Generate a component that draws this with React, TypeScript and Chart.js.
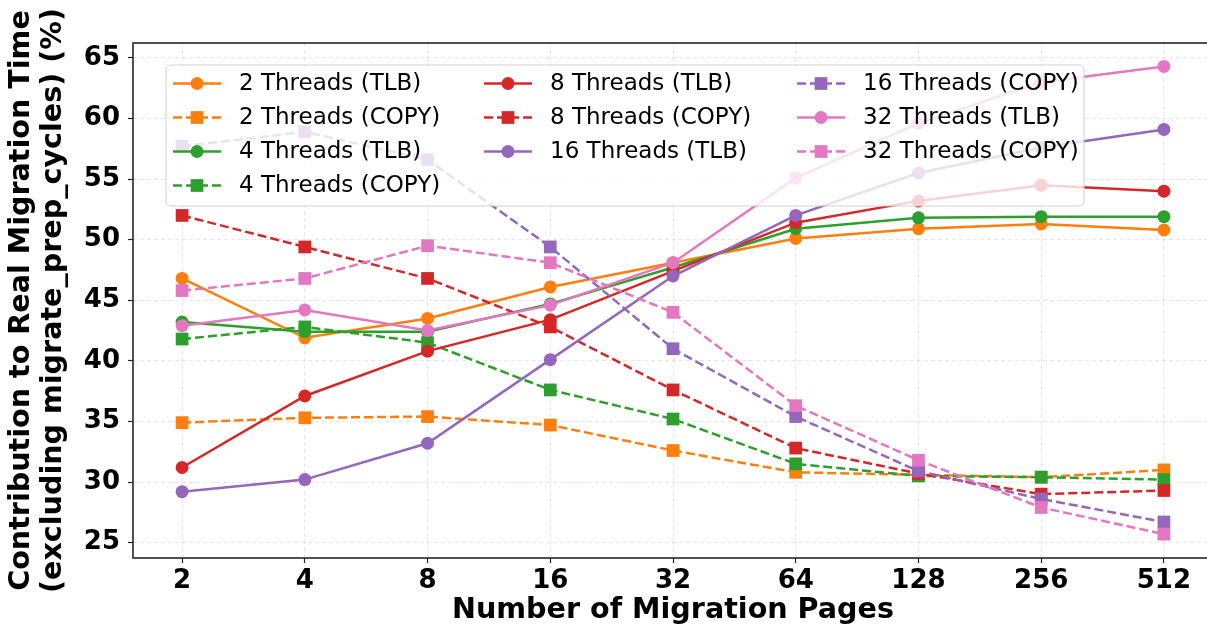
import React, { useEffect, useRef } from "react";
import Chart from "chart.js/auto";

const pages = [2, 4, 8, 16, 32, 64, 128, 256, 512];
const yTicks = [25, 30, 35, 40, 45, 50, 55, 60, 65];

const tlb2 = [46.8, 41.9, 43.5, 46.1, 48.1, 50.1, 50.9, 51.3, 50.8];
const copy2 = [34.9, 35.3, 35.4, 34.7, 32.6, 30.8, 30.6, 30.4, 31.0];
const tlb4 = [43.2, 42.4, 42.4, 44.7, 47.7, 50.9, 51.8, 51.9, 51.9];
const copy4 = [41.8, 42.8, 41.5, 37.6, 35.2, 31.5, 30.5, 30.4, 30.2];
const tlb8 = [31.2, 37.1, 40.8, 43.4, 47.4, 51.4, 53.2, 54.5, 54.0];
const copy8 = [52.0, 49.4, 46.8, 42.8, 37.6, 32.8, 30.7, 29.0, 29.3];
const tlb16 = [29.2, 30.2, 33.2, 40.1, 47.0, 52.0, 55.5, 57.6, 59.1];
const copy16 = [57.7, 58.9, 56.6, 49.4, 41.0, 35.4, 30.9, 28.6, 26.7];
const tlb32 = [42.9, 44.2, 42.5, 44.6, 48.1, 55.1, 59.6, 63.0, 64.3];
const copy32 = [45.8, 46.8, 49.5, 48.1, 44.0, 36.3, 31.8, 27.9, 25.7];

const seriesLabels = [
  "2 Threads (TLB)", "2 Threads (COPY)",
  "4 Threads (TLB)", "4 Threads (COPY)",
  "8 Threads (TLB)", "8 Threads (COPY)",
  "16 Threads (TLB)", "16 Threads (COPY)",
  "32 Threads (TLB)", "32 Threads (COPY)",
];
const seriesValues = [tlb2, copy2, tlb4, copy4, tlb8, copy8, tlb16, copy16, tlb32, copy32];
const threadColors = ["#ff7f0e", "#2ca02c", "#d62728", "#9467bd", "#e377c2"];

const FONT = "'DejaVu Sans', 'Liberation Sans', sans-serif";
const CIRCLE_R = 6.5;
const RECT_R = 9;
const DASH = [9, 4];

function drawMarker(ctx: CanvasRenderingContext2D, isCopy: boolean, x: number, y: number, color: string) {
  ctx.fillStyle = color;
  ctx.beginPath();
  if (isCopy) {
    const s = RECT_R * Math.SQRT1_2;
    ctx.rect(x - s, y - s, 2 * s, 2 * s);
  } else {
    ctx.arc(x, y, CIRCLE_R, 0, Math.PI * 2);
  }
  ctx.fill();
}

const legendPlugin = {
  id: "customLegend",
  afterDatasetsDraw(chart: any) {
    const { ctx, chartArea } = chart;
    const bx = chartArea.left + 33;
    const by = chartArea.top + 22;
    const bw = 918;
    const bh = 141;
    ctx.save();
    ctx.beginPath();
    const r = 5;
    ctx.moveTo(bx + r, by);
    ctx.lineTo(bx + bw - r, by);
    ctx.quadraticCurveTo(bx + bw, by, bx + bw, by + r);
    ctx.lineTo(bx + bw, by + bh - r);
    ctx.quadraticCurveTo(bx + bw, by + bh, bx + bw - r, by + bh);
    ctx.lineTo(bx + r, by + bh);
    ctx.quadraticCurveTo(bx, by + bh, bx, by + bh - r);
    ctx.lineTo(bx, by + r);
    ctx.quadraticCurveTo(bx, by, bx + r, by);
    ctx.closePath();
    ctx.fillStyle = "rgba(255,255,255,0.8)";
    ctx.fill();
    ctx.strokeStyle = "rgba(204,204,204,0.9)";
    ctx.lineWidth = 1;
    ctx.stroke();

    const colX = [bx + 7, bx + 318, bx + 631];
    const rowY = [by + 18.5, by + 52.5, by + 86.5, by + 120.5];
    const colOf = [0, 0, 0, 0, 1, 1, 1, 2, 2, 2];
    const rowOf = [0, 1, 2, 3, 0, 1, 2, 0, 1, 2];
    for (let i = 0; i < seriesLabels.length; i++) {
      const x0 = colX[colOf[i]];
      const y0 = rowY[rowOf[i]];
      const color = threadColors[Math.floor(i / 2)];
      const isCopy = i % 2 === 1;
      ctx.strokeStyle = color;
      ctx.lineWidth = 2.5;
      ctx.setLineDash(isCopy ? DASH : []);
      ctx.beginPath();
      ctx.moveTo(x0, y0);
      ctx.lineTo(x0 + 48, y0);
      ctx.stroke();
      ctx.setLineDash([]);
      drawMarker(ctx, isCopy, x0 + 24, y0, color);
      ctx.fillStyle = "#000";
      ctx.font = "23px " + FONT;
      ctx.textAlign = "left";
      ctx.textBaseline = "middle";
      ctx.fillText(seriesLabels[i], x0 + 66, y0 + 1);
    }
    ctx.restore();
  },
  afterDraw(chart: any) {
    const { ctx, chartArea } = chart;
    ctx.save();
    ctx.strokeStyle = "#262626";
    ctx.lineWidth = 1.6;
    ctx.setLineDash([]);
    ctx.strokeRect(chartArea.left, chartArea.top, chartArea.right - chartArea.left, chartArea.bottom - chartArea.top);
    ctx.restore();
  },
};

export default function App() {
  const canvasRef = useRef<HTMLCanvasElement | null>(null);

  useEffect(() => {
    const canvas = canvasRef.current;
    if (!canvas) return;
    const datasets = seriesLabels.map((label, i) => {
      const color = threadColors[Math.floor(i / 2)];
      const isCopy = i % 2 === 1;
      return {
        label,
        data: pages.map((p, j) => ({ x: Math.log2(p), y: seriesValues[i][j] })),
        borderColor: color,
        backgroundColor: color,
        borderWidth: 2.5,
        borderDash: isCopy ? DASH : [],
        pointStyle: isCopy ? "rect" : "circle",
        pointRadius: isCopy ? RECT_R : CIRCLE_R,
        pointBorderWidth: 0,
        pointBackgroundColor: color,
        pointBorderColor: color,
        tension: 0,
        fill: false,
        order: seriesLabels.length - i,
      };
    });

    const chart = new Chart(canvas, {
      type: "line",
      data: { datasets },
      plugins: [legendPlugin],
      options: {
        animation: false,
        responsive: false,
        maintainAspectRatio: false,
        devicePixelRatio: 1,
        layout: { padding: { left: 0, right: 8, top: 43, bottom: 0 } },
        plugins: { legend: { display: false }, tooltip: { enabled: false } },
        scales: {
          x: {
            type: "linear",
            min: 0.6,
            max: 9.4,
            afterFit: (scale: any) => { scale.height = 71; },
            afterBuildTicks: (scale: any) => {
              scale.ticks = pages.map((p) => ({ value: Math.log2(p) }));
            },
            ticks: {
              includeBounds: false,
              autoSkip: false,
              maxRotation: 0,
              padding: 3,
              color: "#000",
              font: { family: FONT, size: 26, weight: "bold" },
              callback: (v: any) => String(Math.round(Math.pow(2, Number(v)))),
            },
            grid: {
              color: "rgba(176,176,176,0.4)",
              lineWidth: 0.8,
              tickLength: 5,
              tickColor: "#262626",
              tickWidth: 1.2,
              tickBorderDash: [],
            },
            border: { display: false, dash: [4, 3] },
            title: {
              display: true,
              text: "Number of Migration Pages",
              color: "#000",
              font: { family: FONT, size: 28.6, weight: "bold" },
              padding: { top: 0, bottom: 1 },
            },
          },
          y: {
            type: "linear",
            min: 23.73,
            max: 66.23,
            afterFit: (scale: any) => { scale.width = 133; },
            afterBuildTicks: (scale: any) => {
              scale.ticks = yTicks.map((v) => ({ value: v }));
            },
            ticks: {
              includeBounds: false,
              padding: 8,
              color: "#000",
              font: { family: FONT, size: 26, weight: "bold" },
              callback: (v: any) => String(v),
            },
            grid: {
              color: "rgba(176,176,176,0.4)",
              lineWidth: 0.8,
              tickLength: 5,
              tickColor: "#262626",
              tickWidth: 1.2,
              tickBorderDash: [],
            },
            border: { display: false, dash: [4, 3] },
            title: {
              display: true,
              text: ["Contribution to Real Migration Time", "(excluding migrate_prep_cycles) (%)"],
              color: "#000",
              font: { family: FONT, size: 28.6, weight: "bold", lineHeight: 1.12 },
              padding: { top: 6, bottom: 0 },
            },
          },
        },
      },
    });
    return () => chart.destroy();
  }, []);

  return (
    <div style={{ position: "fixed", left: 0, top: 0, width: 1207, height: 629, overflow: "hidden", background: "#fff" }}>
      <canvas ref={canvasRef} width={1222} height={629} style={{ display: "block", width: 1222, height: 629 }} />
    </div>
  );
}
